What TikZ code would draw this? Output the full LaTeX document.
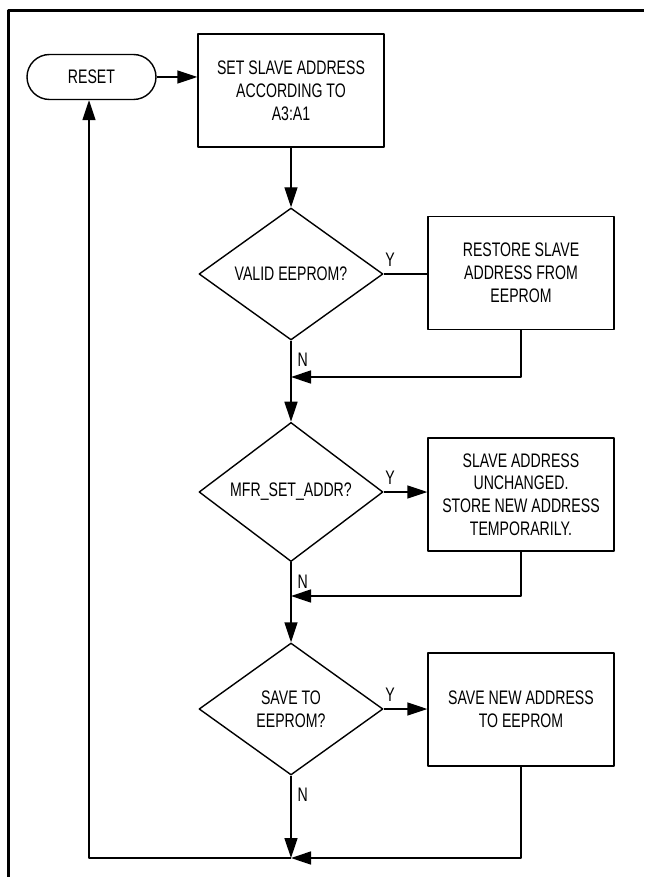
\documentclass[tikz,border=0pt]{standalone}
\usepackage{fontspec}
\setmainfont{Liberation Sans}[FakeStretch=0.72]
\usetikzlibrary{arrows.meta,shapes.geometric}
\begin{document}
\begin{tikzpicture}[x=0.5pt,y=-0.5pt,>={Triangle[length=10pt,width=6.5pt]},
  font=\fontsize{9.8}{11.4}\selectfont, line width=0.7pt, line join=round,
  terminal/.style={draw,rounded corners=11.25pt,minimum width=64.5pt,minimum height=22.5pt,inner sep=0pt},
  block/.style={draw,align=center,minimum width=93pt,minimum height=56.5pt,inner sep=0pt},
  decision/.style={draw,diamond,align=center,minimum width=92pt,minimum height=66pt,inner sep=0pt},
  yes/.style={anchor=south west,inner sep=0pt},
  no/.style={anchor=north west,inner sep=0pt}]
 	\def\xc{291} \def\xr{521} \def\xb{89}
 	\useasboundingbox (0,0) rectangle (644,877);
 	\draw[line width=1.5pt] (8,877)--(8,11)--(644,11);
 	\node[terminal] (reset) at (91.5,77) {RESET};
 	\node[block] (set) at (\xc,90.5) {SET SLAVE ADDRESS\\ACCORDING TO\\A3:A1};
 	\node[decision] (valid) at (\xc,274) {VALID EEPROM?};
 	\node[block] (restore) at (\xr,273) {RESTORE SLAVE\\ADDRESS FROM\\EEPROM};
 	\node[decision] (mfr) at (\xc,492) {MFR\_SET\_ADDR?};
 	\node[block] (keep) at (\xr,494.5) {SLAVE ADDRESS\\UNCHANGED.\\STORE NEW ADDRESS\\TEMPORARILY.};
 	\node[decision] (save) at (\xc,709) {SAVE TO\\EEPROM?};
 	\node[block] (write) at (\xr,709.5) {SAVE NEW ADDRESS\\TO EEPROM};
 	\coordinate (join1) at (\xc,377);
 	\coordinate (join2) at (\xc,596);
 	\coordinate (join3) at (\xc,858);
 	\coordinate (back) at (\xb,858);
 	% main path
 	\draw[->] (reset.east)--(set.west |- reset.east);
 	\draw[->] (set.south)--(valid.north);
 	\draw[->] (valid.south)--(mfr.north);
 	\draw[->] (mfr.south)--(save.north);
 	\draw[->] (save.south)--(join3);
 	\draw[->] (join3)--(back)--(back |- reset.south);
 	% yes branches
 	\draw (valid.east)--(restore.west |- valid.east);
 	\draw[->] (mfr.east)--(keep.west |- mfr.east);
 	\draw[->] (save.east)--(write.west |- save.east);
 	\draw[->] (restore.south) |- (join1);
 	\draw[->] (keep.south) |- (join2);
 	\draw[->] (write.south) |- (join3);
 	\foreach \d in {valid,mfr,save}{
 	\node[yes] at ([shift={(1,-7)}]\d.east) {Y};
 	\node[no] at ([shift={(6,12)}]\d.south) {N};
 	}
 	\end{tikzpicture}
\end{document}
